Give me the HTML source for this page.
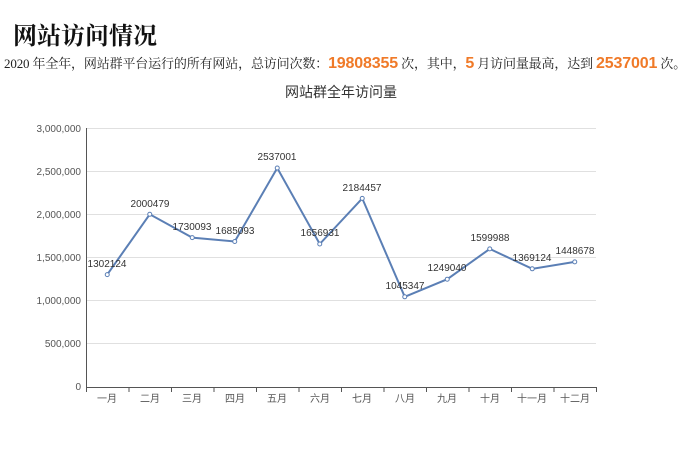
<!DOCTYPE html>
<html><head><meta charset="utf-8"><style>
body{margin:0;width:696px;height:451px;background:#fff;overflow:hidden;position:relative}
h1{position:absolute;left:13px;top:16px;margin:0;font:bold 24px "Liberation Serif","Noto Serif CJK SC",serif;color:#111}
.sub{position:absolute;left:4px;top:53px;font:13px "Liberation Serif","Noto Serif CJK SC",serif;color:#222;white-space:nowrap;letter-spacing:-0.15px}
.sub b{font:bold 16px "Liberation Sans","Noto Sans CJK SC",sans-serif;color:#f07a28}
</style></head><body>
<h1>网站访问情况</h1>
<div class="sub">2020 年全年，网站群平台运行的所有网站，总访问次数：<b>19808355</b> 次，其中，<b>5</b> 月访问量最高，达到 <b>2537001</b> 次。</div>
<svg width="696" height="451" style="position:absolute;left:0;top:0" font-family="Liberation Sans,Noto Sans CJK SC,sans-serif">
<text x="341" y="97" text-anchor="middle" font-size="14" fill="#333">网站群全年访问量</text>
<g stroke="#e0e0e0" stroke-width="1">
<line x1="86" x2="596" y1="128.5" y2="128.5"/><line x1="86" x2="596" y1="171.5" y2="171.5"/><line x1="86" x2="596" y1="214.5" y2="214.5"/><line x1="86" x2="596" y1="257.5" y2="257.5"/><line x1="86" x2="596" y1="300.5" y2="300.5"/><line x1="86" x2="596" y1="343.5" y2="343.5"/>
</g>
<g stroke="#555" stroke-width="1">
<line x1="86.5" x2="86.5" y1="128" y2="387"/><line x1="86" x2="596" y1="387.5" y2="387.5"/>
<path d="M86.5 387v5M129 387v5M171.5 387v5M214 387v5M256.5 387v5M299 387v5M341.5 387v5M384 387v5M426.5 387v5M469 387v5M511.5 387v5M554 387v5M596.5 387v5"/>
</g>
<g font-size="10" fill="#555" text-anchor="end">
<text x="81" y="132">3,000,000</text><text x="81" y="175">2,500,000</text><text x="81" y="218">2,000,000</text><text x="81" y="261">1,500,000</text><text x="81" y="304">1,000,000</text><text x="81" y="347">500,000</text><text x="81" y="390">0</text>
</g>
<g font-size="10" fill="#555" text-anchor="middle">
<text x="107" y="402">一月</text><text x="150" y="402">二月</text><text x="192" y="402">三月</text><text x="235" y="402">四月</text><text x="277" y="402">五月</text><text x="320" y="402">六月</text><text x="362" y="402">七月</text><text x="405" y="402">八月</text><text x="447" y="402">九月</text><text x="490" y="402">十月</text><text x="532" y="402">十一月</text><text x="575" y="402">十二月</text>
</g>
<polyline fill="none" stroke="#5b7fb5" stroke-width="2" points="107.25,274.6 149.75,214.3 192.25,237.6 234.75,241.5 277.25,168 319.75,244 362.25,198.4 404.75,296.8 447.25,279.2 489.75,248.9 532.25,268.8 574.75,261.9"/>
<g fill="#fff" stroke="#5b7fb5" stroke-width="1">
<circle cx="107.25" cy="274.6" r="2"/><circle cx="149.75" cy="214.3" r="2"/><circle cx="192.25" cy="237.6" r="2"/><circle cx="234.75" cy="241.5" r="2"/><circle cx="277.25" cy="168" r="2"/><circle cx="319.75" cy="244" r="2"/><circle cx="362.25" cy="198.4" r="2"/><circle cx="404.75" cy="296.8" r="2"/><circle cx="447.25" cy="279.2" r="2"/><circle cx="489.75" cy="248.9" r="2"/><circle cx="532.25" cy="268.8" r="2"/><circle cx="574.75" cy="261.9" r="2"/>
</g>
<g font-size="10" fill="#333" text-anchor="middle">
<text x="107" y="267">1302124</text><text x="150" y="207">2000479</text><text x="192" y="230">1730093</text><text x="235" y="234">1685093</text><text x="277" y="160">2537001</text><text x="320" y="236">1656931</text><text x="362" y="191">2184457</text><text x="405" y="289">1045347</text><text x="447" y="271">1249040</text><text x="490" y="241">1599988</text><text x="532" y="261">1369124</text><text x="575" y="254">1448678</text>
</g>
</svg>
</body></html>
